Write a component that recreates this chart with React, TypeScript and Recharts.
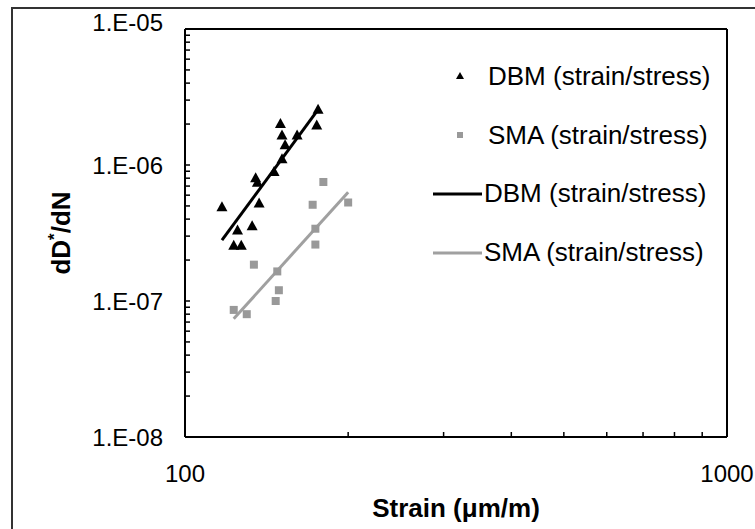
import { ScatterChart, Scatter, XAxis, YAxis, Legend } from 'recharts'

const dbmStrain = [117, 135, 136, 137, 146, 150, 151, 153, 151, 161, 175, 176, 125, 133, 123, 127]
const dbmRate = [4.9e-7, 8.0e-7, 7.4e-7, 5.2e-7, 8.9e-7, 2.0e-6, 1.65e-6, 1.4e-6, 1.1e-6, 1.65e-6, 1.95e-6, 2.55e-6, 3.3e-7, 3.55e-7, 2.55e-7, 2.55e-7]
const smaStrain = [180, 172, 200, 174, 174, 134, 148, 149, 147, 123, 130]
const smaRate = [7.5e-7, 5.1e-7, 5.3e-7, 3.4e-7, 2.6e-7, 1.85e-7, 1.65e-7, 1.2e-7, 1.0e-7, 8.6e-8, 8.0e-8]

// power-law trend lines (end points)
const dbmTrendStrain = [117, 176]
const dbmTrendRate = [2.8e-7, 2.55e-6]
const smaTrendStrain = [123, 200]
const smaTrendRate = [7.4e-8, 6.3e-7]

const xMajorTicks = [100, 1000]
const yMajorTicks = [1e-8, 1e-7, 1e-6, 1e-5]
const minorSteps = [2, 3, 4, 5, 6, 7, 8, 9]

const legendItems = [
  { name: 'DBM (strain/stress)', kind: 'triangle', color: '#000' },
  { name: 'SMA (strain/stress)', kind: 'square', color: '#999' },
  { name: 'DBM (strain/stress)', kind: 'line', color: '#000' },
  { name: 'SMA (strain/stress)', kind: 'line', color: '#a0a0a0' },
]

const FONT = '"Liberation Sans", Arial, sans-serif'

const toPoints = (xs: number[], ys: number[]) => xs.map((x, i) => ({ x, y: ys[i] }))
const dbmPoints = toPoints(dbmStrain, dbmRate)
const smaPoints = toPoints(smaStrain, smaRate)
const dbmTrend = toPoints(dbmTrendStrain, dbmTrendRate)
const smaTrend = toPoints(smaTrendStrain, smaTrendRate)

const withMinors = (majors: number[]) => {
  const out: number[] = []
  majors.forEach((m, i) => {
    out.push(m)
    if (i < majors.length - 1) minorSteps.forEach((s) => out.push(+(m * s).toPrecision(3)))
  })
  return out
}
const xTicks = withMinors(xMajorTicks)
const yTicks = withMinors(yMajorTicks)

const isMajor = (v: number, majors: number[]) => majors.some((m) => Math.abs(m - v) / m < 1e-6)

const fmtExp = (v: number) => {
  const e = Math.round(Math.log10(v))
  return `1.E${e < 0 ? '-' : '+'}${String(Math.abs(e)).padStart(2, '0')}`
}

// tick marks come from recharts (tickSize -5 = pointing inside); these only draw the labels
const YTick = (props: any) => {
  const { x, y, payload } = props
  const v = payload.value
  if (!isMajor(v, yMajorTicks)) return <g />
  return (
    <text x={Number(x) - 27} y={Number(y) + (v >= 1e-5 ? -7 : 0)} textAnchor="end" dominantBaseline="central"
      fontFamily={FONT} fontSize={24} fill="#000">
      {fmtExp(v)}
    </text>
  )
}

const XTick = (props: any) => {
  const { x, y, payload } = props
  const v = payload.value
  if (!isMajor(v, xMajorTicks)) return <g />
  return (
    <text x={Number(x)} y={Number(y) + 50} textAnchor="middle" fontFamily={FONT} fontSize={24} fill="#000">
      {v}
    </text>
  )
}

const YLabel = (props: any) => {
  const { viewBox } = props
  const cy = viewBox.y + viewBox.height / 2
  return (
    <text x={70} y={cy} transform={`rotate(-90, 70, ${cy})`} textAnchor="middle"
      fontFamily={FONT} fontSize={26} fontWeight="bold" fill="#000">
      <tspan>dD</tspan>
      <tspan dy={-10} fontSize={17}>*</tspan>
      <tspan dy={10}>/dN</tspan>
    </text>
  )
}

const XLabel = (props: any) => {
  const { viewBox } = props
  return (
    <text x={viewBox.x + viewBox.width / 2} y={viewBox.y + 80} textAnchor="middle"
      fontFamily={FONT} fontSize={26} fontWeight="bold" fill="#000">
      Strain (μm/m)
    </text>
  )
}

const triangle = (p: any) => (
  <polygon points={`${p.cx},${p.cy - 6} ${p.cx - 5.5},${p.cy + 4} ${p.cx + 5.5},${p.cy + 4}`} fill="#000" />
)
const square = (p: any) => <rect x={p.cx - 4} y={p.cy - 4} width={8} height={8} fill="#999" />
const noDot = () => <g />

const LegendBox = () => (
  <div style={{ fontFamily: FONT, fontSize: 26, color: '#000' }}>
    {legendItems.map((it, i) => (
      <div key={i} style={{ display: 'flex', alignItems: 'center', height: 58.8 }}>
        <svg width={54} height={20} style={{ flex: 'none' }}>
          {it.kind === 'triangle' && <polygon points="30,6 26,13 34,13" fill={it.color} />}
          {it.kind === 'square' && <rect x={27} y={7} width={6} height={6} fill={it.color} />}
          {it.kind === 'line' && <line x1={3} x2={52} y1={10} y2={10} stroke={it.color} strokeWidth={3} />}
        </svg>
        <span style={{ marginLeft: it.kind === 'line' ? 0 : 4, whiteSpace: 'nowrap' }}>{it.name}</span>
      </div>
    ))}
  </div>
)

const axisStroke = { stroke: '#000', strokeWidth: 2 }
const tickStroke = { stroke: '#000', strokeWidth: 1.5 }

export default function App() {
  return (
    <div style={{ position: 'fixed', left: 0, top: 0, width: 755, height: 529, overflow: 'hidden', background: '#fff' }}>
      <div style={{ position: 'absolute', left: 11, top: 7, width: 800, height: 600, border: '2px solid #333', boxSizing: 'border-box' }} />
      <div style={{ position: 'absolute', left: 0, top: 0 }}>
        <ScatterChart width={755} height={529} margin={{ top: 28, right: 27, bottom: 0, left: 0 }}>
          <XAxis dataKey="x" type="number" scale="log" domain={[100, 1000]} ticks={xTicks} interval={0}
            allowDataOverflow axisLine={axisStroke} tickLine={tickStroke} tickSize={-5} tickMargin={0}
            tick={<XTick />} height={92} label={<XLabel />} />
          <XAxis xAxisId="top" orientation="top" dataKey="x" type="number" scale="log" domain={[100, 1000]}
            allowDataOverflow axisLine={axisStroke} tick={false} tickLine={false} height={1} />
          <YAxis dataKey="y" type="number" scale="log" domain={[1e-8, 1e-5]} ticks={yTicks} interval={0}
            allowDataOverflow axisLine={axisStroke} tickLine={tickStroke} tickSize={-5} tickMargin={0}
            tick={<YTick />} width={185} label={<YLabel />} />
          <YAxis yAxisId="right" orientation="right" dataKey="y" type="number" scale="log" domain={[1e-8, 1e-5]}
            allowDataOverflow axisLine={axisStroke} tick={false} tickLine={false} width={1} />
          <Scatter data={smaTrend} line={{ stroke: '#a0a0a0', strokeWidth: 3 }} shape={noDot} legendType="none" isAnimationActive={false} />
          <Scatter data={dbmTrend} line={{ stroke: '#000', strokeWidth: 3 }} shape={noDot} legendType="none" isAnimationActive={false} />
          <Scatter data={smaPoints} shape={square} legendType="none" isAnimationActive={false} />
          <Scatter data={dbmPoints} shape={triangle} legendType="none" isAnimationActive={false} />
          <Legend layout="vertical" align="center" verticalAlign="middle" content={<LegendBox />}
            wrapperStyle={{ top: 47, left: 430, width: 325 }} />
        </ScatterChart>
      </div>
    </div>
  )
}
